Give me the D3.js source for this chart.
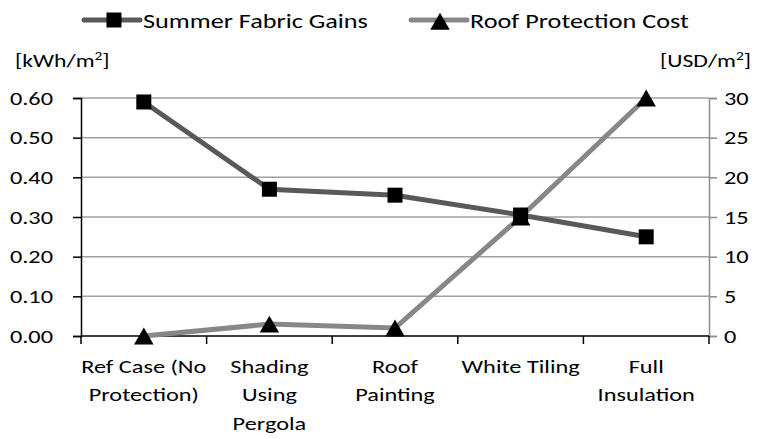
<!DOCTYPE html>
<html>
<head>
<meta charset="utf-8">
<script src="https://cdn.jsdelivr.net/npm/d3@7/dist/d3.min.js"></script>
<style>
  body { margin: 0; background: #fff; }
  text { font-family: Carlito, Calibri, "Open Sans", sans-serif; fill: #000; }
</style>
</head>
<body>
<svg id="chart" width="761" height="439"></svg>
<script>
const categories = [
  ['Ref Case (No', 'Protection)'],
  ['Shading', 'Using', 'Pergola'],
  ['Roof', 'Painting'],
  ['White Tiling'],
  ['Full', 'Insulation']
]
const fabricGains = [0.59, 0.37, 0.355, 0.305, 0.25]
const protectionCost = [0, 1.5, 1, 15, 30]
const leftTicks = [0, 0.1, 0.2, 0.3, 0.4, 0.5, 0.6]
const rightTicks = [0, 5, 10, 15, 20, 25, 30]

const svg = d3.select('#chart')
const plotLeft = 81, plotRight = 709, plotTop = 98, plotBottom = 336
const fontSize = 19
const sx = 1.28 // text in the source image is stretched sideways

const x = d3.scaleBand().domain(d3.range(categories.length)).range([plotLeft, plotRight])
const yL = d3.scaleLinear().domain([0, 0.6]).range([plotBottom, plotTop])
const yR = d3.scaleLinear().domain([0, 30]).range([plotBottom, plotTop])
const cx = i => x(i) + x.bandwidth() / 2

// stretch axis labels around their tick origin
const stretchTicks = (g) => {
  g.selectAll('.tick text').each(function () {
    const t = d3.select(this)
    t.attr('x', +t.attr('x') / sx).attr('transform', `scale(${sx},1)`)
      .attr('font-size', fontSize).attr('font-family', null).attr('fill', '#000')
  })
}

// gridlines
svg.append('g').selectAll('line').data(leftTicks.slice(1)).join('line')
  .attr('x1', plotLeft).attr('x2', plotRight)
  .attr('y1', d => yL(d)).attr('y2', d => yL(d))
  .attr('stroke', '#a0a0a0').attr('stroke-width', 1.5)

// left axis
const gL = svg.append('g').attr('transform', `translate(${plotLeft},0)`)
  .call(d3.axisLeft(yL).tickValues(leftTicks).tickFormat(d3.format('.2f')).tickSize(8).tickPadding(20))
gL.select('.domain').attr('stroke', '#000').attr('stroke-width', 1.5)
gL.selectAll('.tick line').attr('stroke', '#000').attr('stroke-width', 1.5)
stretchTicks(gL)

// right axis
const gR = svg.append('g').attr('transform', `translate(${plotRight},0)`)
  .call(d3.axisRight(yR).tickValues(rightTicks).tickSize(8).tickPadding(7))
gR.select('.domain').attr('stroke', '#8c8c8c').attr('stroke-width', 1.5)
gR.selectAll('.tick line').attr('stroke', '#8c8c8c').attr('stroke-width', 1.5)
stretchTicks(gR)

// bottom axis
const gB = svg.append('g').attr('transform', `translate(0,${plotBottom})`)
gB.append('line').attr('x1', plotLeft).attr('x2', plotRight).attr('stroke', '#000').attr('stroke-width', 1.5)
gB.selectAll('line.tk').data(d3.range(categories.length + 1)).join('line')
  .attr('class', 'tk')
  .attr('x1', d => plotLeft + d * x.step()).attr('x2', d => plotLeft + d * x.step())
  .attr('y1', 0).attr('y2', 8).attr('stroke', '#000').attr('stroke-width', 1.5)
gB.selectAll('text').data(categories).join('text')
  .attr('text-anchor', 'middle').attr('font-size', fontSize)
  .attr('transform', (d, i) => `translate(${cx(i)},0) scale(${sx},1)`)
  .selectAll('tspan').data(d => d).join('tspan')
  .attr('x', 0).attr('y', (d, i) => 37 + i * 28.5).text(d => d)

// series lines
svg.append('path').datum(protectionCost)
  .attr('fill', 'none').attr('stroke', '#878787').attr('stroke-width', 5)
  .attr('d', d3.line().x((d, i) => cx(i)).y(d => yR(d)))
svg.append('path').datum(fabricGains)
  .attr('fill', 'none').attr('stroke', '#595959').attr('stroke-width', 5)
  .attr('d', d3.line().x((d, i) => cx(i)).y(d => yL(d)))

const square = d3.symbol().type(d3.symbolSquare).size(225)
const triangle = d3.symbol().type(d3.symbolTriangle).size(165)

// triangles centred on their bounding box, as the source does
svg.append('g').selectAll('path').data(protectionCost).join('path')
  .attr('d', triangle).attr('fill', '#000')
  .attr('transform', (d, i) => `translate(${cx(i)},${yR(d) + 2.8})`)
svg.append('g').selectAll('path').data(fabricGains).join('path')
  .attr('d', square).attr('fill', '#000')
  .attr('transform', (d, i) => `translate(${cx(i)},${yL(d)})`)

// unit labels
const unitLabel = (px, anchor) => {
  const t = svg.append('g').attr('transform', `translate(${px},67) scale(${sx},1)`)
    .append('text').attr('font-size', 18.5).attr('text-anchor', anchor)
  t.append('tspan').text(anchor === 'end' ? '[USD/m' : '[kWh/m')
  t.append('tspan').attr('font-size', 12).attr('dy', -7).text('2')
  t.append('tspan').attr('dy', 7).text(']')
}
unitLabel(15, 'start')
unitLabel(751, 'end')

// legend
const legend = [
  { name: 'Summer Fabric Gains', color: '#595959', sym: square, x: 84 },
  { name: 'Roof Protection Cost', color: '#878787', sym: triangle, x: 411 }
]
const lg = svg.append('g').selectAll('g').data(legend).join('g')
  .attr('transform', d => `translate(${d.x},20)`)
lg.append('line').attr('x1', 0).attr('x2', 56).attr('stroke', d => d.color)
  .attr('stroke-width', 5).attr('stroke-linecap', 'round')
lg.append('path').attr('d', d => d.sym()).attr('fill', '#000')
  .attr('transform', (d, i) => `translate(${i ? 29 : 30},${i ? 4 : 0})`)
lg.append('text').attr('font-size', 20.5)
  .attr('transform', `translate(59,8) scale(${sx},1)`).text(d => d.name)
</script>
</body>
</html>
